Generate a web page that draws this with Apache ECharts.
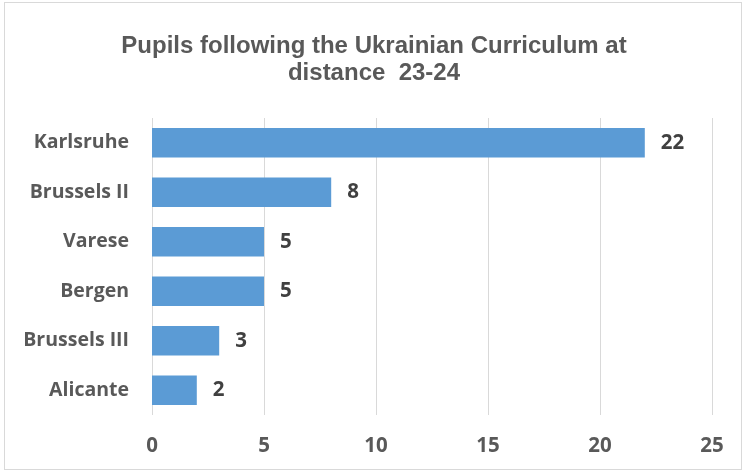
<!DOCTYPE html>
<html><head><meta charset="utf-8">
<script src="https://cdn.jsdelivr.net/npm/echarts@6/dist/echarts.min.js"></script>
<style>html,body{margin:0;padding:0;background:#fff}
#wrap{position:absolute;left:4px;top:2px;width:738px;height:468px;border:1px solid #d9d9d9;box-sizing:border-box}
#c{position:absolute;left:0;top:0;width:748px;height:473px}</style>
</head><body><div id="wrap"></div><div id="c"></div>
<script>
const categories = ['Karlsruhe','Brussels II','Varese','Bergen','Brussels III','Alicante'];
const values = [22, 8, 5, 5, 3, 2];
const titleText = 'Pupils following the Ukrainian Curriculum at\ndistance  23-24';
const chart = echarts.init(document.getElementById('c'));
chart.setOption({
  animation:false,
  title:{text:titleText,left:'center',top:28,textStyle:{fontFamily:'Liberation Sans',fontWeight:'bold',fontSize:24,color:'#595959',lineHeight:27,letterSpacing:-0.6}},
  grid:{left:152,right:36,top:118,bottom:58},
  xAxis:{type:'value',min:0,max:25,interval:5,axisLine:{show:false},axisTick:{show:false},
    splitLine:{lineStyle:{color:'#d9d9d9',width:1}},
    axisLabel:{margin:21,fontFamily:'Open Sans',fontWeight:'bold',fontSize:20.5,color:'#595959'}},
  yAxis:{type:'category',data:categories,inverse:true,axisLine:{show:false},axisTick:{show:false},
    axisLabel:{margin:23,fontFamily:'Open Sans',fontWeight:'bold',fontSize:19.5,color:'#595959'}},
  series:[{type:'bar',data:values,barCategoryGap:'40%',itemStyle:{color:'#5b9bd5'},
    label:{show:true,position:'right',distance:16,fontFamily:'Open Sans',fontWeight:'bold',fontSize:20.5,color:'#404040'}}]
});
</script></body></html>
